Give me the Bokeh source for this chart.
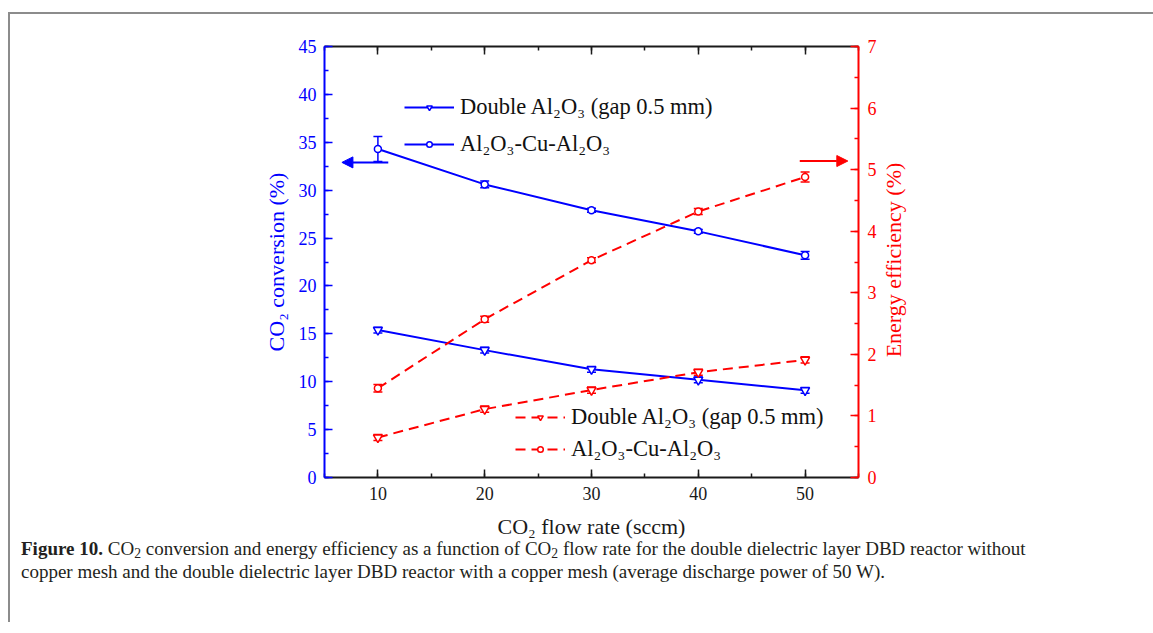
from bokeh.plotting import figure
from bokeh.models import (Range1d, LinearAxis, SingleIntervalTicker, Legend, LegendItem,
                          Whisker, ColumnDataSource, Arrow, NormalHead, TeeHead,
                          CustomJSTickFormatter, Div)
from bokeh.layouts import column
from bokeh.embed import file_html
from bokeh.resources import INLINE

# ---------------- data ----------------
flow = [10, 20, 30, 40, 50]
conv_double = [15.4, 13.3, 11.3, 10.2, 9.1]
conv_double_err = [0.3, 0.3, 0.3, 0.3, 0.3]
conv_cu = [34.3, 30.6, 27.9, 25.7, 23.2]
conv_cu_err = [1.3, 0.35, 0.2, 0.2, 0.4]
eff_double = [0.65, 1.11, 1.42, 1.71, 1.91]
eff_double_err = [0.05, 0.05, 0.05, 0.05, 0.05]
eff_cu = [1.45, 2.57, 3.53, 4.32, 4.88]
eff_cu_err = [0.06, 0.05, 0.04, 0.05, 0.08]

label_double = "Double Al\u2082O\u2083 (gap 0.5 mm)"
label_cu = "Al\u2082O\u2083-Cu-Al\u2082O\u2083"
xlabel = "CO\u2082 flow rate (sccm)"
ylabel_left = "CO\u2082 conversion (%)"
ylabel_right = "Energy efficiency (%)"

BLUE = "#0000ff"
RED = "#ff0000"
BLACK = "#1a1a1a"
FONT = "Liberation Serif"
FRAME_W, FRAME_H = 534, 431

p = figure(frame_width=FRAME_W, frame_height=FRAME_H,
           min_border_left=314, min_border_right=295,
           min_border_top=32, min_border_bottom=63,
           x_range=Range1d(5, 55), y_range=Range1d(0, 45),
           output_backend="svg", toolbar_location=None,
           outline_line_color=None, background_fill_color="white",
           border_fill_color="white")
p.grid.visible = False
p.extra_y_ranges = {"eff": Range1d(0, 7)}


def style_axis(ax, color, label_color=None):
    ax.axis_line_color = color
    ax.axis_line_width = 2
    ax.major_tick_line_color = color
    ax.minor_tick_line_color = color
    ax.major_tick_line_width = 1.5
    ax.minor_tick_line_width = 1.5
    ax.major_tick_in = 8
    ax.major_tick_out = 0
    ax.minor_tick_in = 4
    ax.minor_tick_out = 0
    ax.major_label_text_font = FONT
    ax.major_label_text_font_size = "18px"
    ax.major_label_text_color = label_color or color
    ax.axis_label_text_font = FONT
    ax.axis_label_text_font_size = "22px"
    ax.axis_label_text_font_style = "normal"
    ax.axis_label_text_color = label_color or color


# bottom axis
xax = p.xaxis[0]
xax.ticker = SingleIntervalTicker(interval=10, num_minor_ticks=2)
style_axis(xax, BLACK)
xax.axis_label = xlabel
xax.major_label_standoff = 9
xax.axis_label_standoff = 11

# left axis
yax = p.yaxis[0]
yax.ticker = SingleIntervalTicker(interval=5, num_minor_ticks=2)
style_axis(yax, BLUE)
yax.axis_label = ylabel_left
yax.major_label_standoff = 8
yax.axis_label_standoff = 7

# right axis
rax = LinearAxis(y_range_name="eff", ticker=SingleIntervalTicker(interval=1, num_minor_ticks=2))
style_axis(rax, RED)
rax.major_label_standoff = 9
p.add_layout(rax, "right")

# top axis (no labels)
tax = LinearAxis(ticker=SingleIntervalTicker(interval=10, num_minor_ticks=2),
                 formatter=CustomJSTickFormatter(code="return ''"))
style_axis(tax, BLACK)
tax.major_label_standoff = 0
p.add_layout(tax, "above")

# ---------------- series ----------------
l1 = p.line(flow, conv_double, line_color=BLUE, line_width=2)
s1 = p.scatter(flow, conv_double, marker="inverted_triangle", size=9,
               fill_color="white", line_color=BLUE, line_width=1.5)
l2 = p.line(flow, conv_cu, line_color=BLUE, line_width=2)
s2 = p.scatter(flow, conv_cu, marker="circle", size=7,
               fill_color="white", line_color=BLUE, line_width=1.5)

l3 = p.line(flow, eff_double, line_color=RED, line_width=2, line_dash="10 6", y_range_name="eff")
s3 = p.scatter(flow, eff_double, marker="inverted_triangle", size=9, y_range_name="eff",
               fill_color="white", line_color=RED, line_width=1.5)
l4 = p.line(flow, eff_cu, line_color=RED, line_width=2, line_dash="10 6", y_range_name="eff")
s4 = p.scatter(flow, eff_cu, marker="circle", size=7, y_range_name="eff",
               fill_color="white", line_color=RED, line_width=1.5)


def add_err(vals, errs, color, yname="default"):
    src = ColumnDataSource(dict(x=flow,
                                upper=[v + e for v, e in zip(vals, errs)],
                                lower=[v - e for v, e in zip(vals, errs)]))
    w = Whisker(source=src, base="x", upper="upper", lower="lower",
                line_color=color, line_width=1.5, y_range_name=yname,
                upper_head=TeeHead(size=9, line_color=color, line_width=1.5),
                lower_head=TeeHead(size=9, line_color=color, line_width=1.5))
    p.add_layout(w)


add_err(conv_double, conv_double_err, BLUE)
add_err(conv_cu, conv_cu_err, BLUE)
add_err(eff_double, eff_double_err, RED, "eff")
add_err(eff_cu, eff_cu_err, RED, "eff")

# ---------------- arrows ----------------
arrow_left = dict(x_start=10.97, x_end=6.63, y=32.9)
arrow_right = dict(x_start=49.5, x_end=54.0, y=5.14)
p.add_layout(Arrow(end=NormalHead(size=11, fill_color=BLUE, line_color=BLUE),
                   x_start=arrow_left["x_start"], y_start=arrow_left["y"],
                   x_end=arrow_left["x_end"], y_end=arrow_left["y"],
                   line_color=BLUE, line_width=2))
p.add_layout(Arrow(end=NormalHead(size=11, fill_color=RED, line_color=RED),
                   x_start=arrow_right["x_start"], y_start=arrow_right["y"],
                   x_end=arrow_right["x_end"], y_end=arrow_right["y"],
                   line_color=RED, line_width=2, y_range_name="eff"))

# ---------------- legends ----------------
def make_legend(items, loc, spacing):
    lg = Legend(items=items, location=loc, spacing=spacing, padding=0, margin=0,
                glyph_width=50, glyph_height=14, label_height=26, label_standoff=6,
                label_text_font=FONT, label_text_font_size="22.5px",
                label_text_color="#111111", border_line_color=None,
                background_fill_alpha=0)
    p.add_layout(lg)
    return lg


make_legend([LegendItem(label=label_double, renderers=[l1, s1]),
             LegendItem(label=label_cu, renderers=[l2, s2])], (80, 320), 11)
make_legend([LegendItem(label=label_double, renderers=[l3, s3]),
             LegendItem(label=label_cu, renderers=[l4, s4])], (191, 15), 6)

# ---------------- caption ----------------
SUB = '<sub style="font-size:0.72em;vertical-align:-0.25em;line-height:0">2</sub>'
caption_html = ('<b>Figure 10.</b> CO' + SUB + ' conversion and energy efficiency as a function of '
                'CO' + SUB + ' flow rate for the double dielectric layer DBD reactor without<br>'
                'copper mesh and the double dielectric layer DBD reactor with a copper mesh '
                '(average discharge power of 50 W).')
cap = Div(text=caption_html, width=1130, height=80,
          styles={"font-family": FONT, "font-size": "19px", "line-height": "23px",
                  "color": "#231f20", "padding-left": "6px", "margin-top": "-4px"})

# right axis title, reading bottom-to-top as in the original
rtitle = Div(text=ylabel_right, width=220, height=26,
             styles={"position": "absolute", "left": "769px", "top": "228px",
                     "transform": "rotate(-90deg)", "font-family": FONT,
                     "font-size": "22px", "color": RED, "white-space": "nowrap",
                     "text-align": "center", "line-height": "26px"})

layout = column(p, cap, rtitle, styles={"border-left": "2px solid #8c8c8c",
                                        "border-top": "2px solid #8c8c8c",
                                        "margin-top": "12px", "margin-left": "8px",
                                        "position": "relative"})

open("out.html", "w").write(file_html(layout, INLINE))
